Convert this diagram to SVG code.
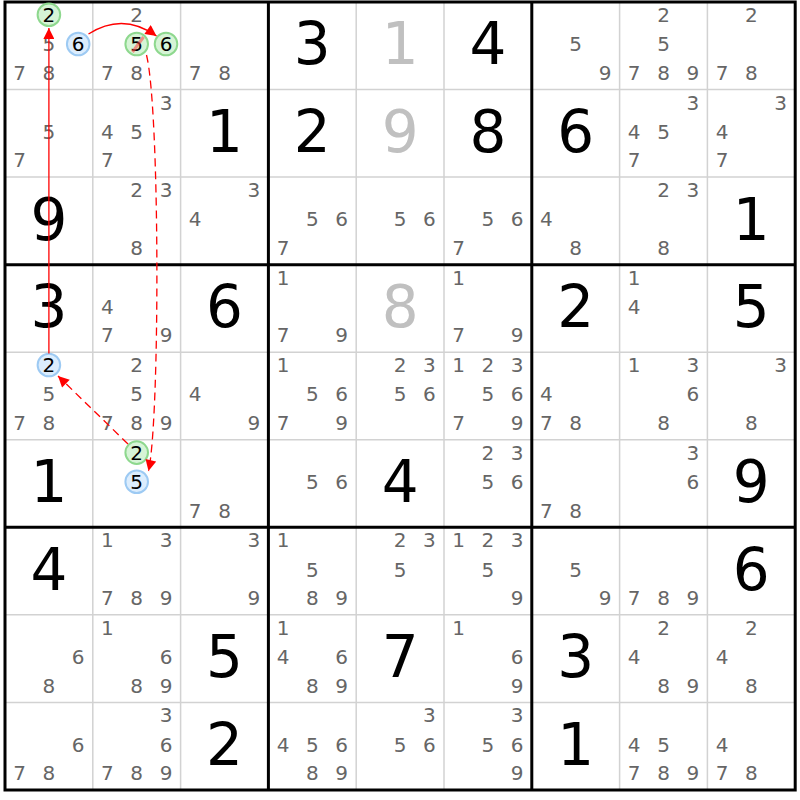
<svg xmlns="http://www.w3.org/2000/svg" width="800" height="800" viewBox="0 0 800 800">
<style>
.c{font-family:"DejaVu Sans",Verdana,sans-serif;font-size:20px;fill:#666;text-anchor:middle}
.cb{font-family:"DejaVu Sans",Verdana,sans-serif;font-size:20px;fill:#000;text-anchor:middle}
.g{font-family:"DejaVu Sans",Verdana,sans-serif;font-size:58px;fill:#000;text-anchor:middle}
.s{font-family:"DejaVu Sans",Verdana,sans-serif;font-size:58px;fill:#c0c0c0;text-anchor:middle}
.gc{fill:#d6f4d6;stroke:#8ed88e;stroke-width:2}
.bc{fill:#dcedfd;stroke:#9dcaf3;stroke-width:2}
.thin{stroke:#d2d2d2;stroke-width:1.5}
.thick{stroke:#000;stroke-width:3}
.link{fill:none;stroke:#f00;stroke-width:1.3}
.dash{stroke-dasharray:8 5}
</style>
<defs>
<marker id="ah" viewBox="0 0 10 10" refX="10" refY="5" markerWidth="13" markerHeight="11" markerUnits="userSpaceOnUse" orient="auto">
<path d="M0,0 L10,5 L0,10 z" fill="#f00"/>
</marker>
</defs>
<rect x="0" y="0" width="800" height="800" fill="#fff"/>
<g id="grid">
<path class="thin" d="M92.8,2V790M180.6,2V790M356.2,2V790M444,2V790M619.6,2V790M707.4,2V790M5,89.55H795.2M5,177.1H795.2M5,352.2H795.2M5,439.75H795.2M5,614.85H795.2M5,702.4H795.2"/>
<path class="thick" d="M268.4,2V790M531.8,2V790M5,264.65H795.2M5,527.3H795.2"/>
<rect class="thick" x="5" y="2" width="790.2" height="788" fill="none"/>
</g>
<g id="cells">
<g id="r0c0"><circle class="gc" cx="48.9" cy="14.8" r="11.3"/><circle class="bc" cx="78.2" cy="44" r="11.3"/><text class="cb" x="48.9" y="22">2</text><text class="c" x="48.9" y="51.2">5</text><text class="cb" x="78.2" y="51.2">6</text><text class="c" x="19.6" y="79.7">7</text><text class="c" x="48.9" y="79.7">8</text></g>
<g id="r0c1"><circle class="gc" cx="136.7" cy="44" r="11.3"/><circle class="gc" cx="166" cy="44" r="11.3"/><text class="c" x="136.7" y="22">2</text><text class="cb" x="136.7" y="51.2">5</text><line x1="143.5" y1="37" x2="132.5" y2="52" stroke="#ff4040" stroke-opacity="0.55" stroke-width="3"/><text class="cb" x="166" y="51.2">6</text><text class="c" x="107.4" y="79.7">7</text><text class="c" x="136.7" y="79.7">8</text></g>
<g id="r0c2"><text class="c" x="195.2" y="79.7">7</text><text class="c" x="224.5" y="79.7">8</text></g>
<g id="r0c3"><text class="g" x="312.3" y="64.4">3</text></g>
<g id="r0c4"><text class="s" x="400.1" y="64.4">1</text></g>
<g id="r0c5"><text class="g" x="487.9" y="64.4">4</text></g>
<g id="r0c6"><text class="c" x="575.7" y="51.2">5</text><text class="c" x="605" y="79.7">9</text></g>
<g id="r0c7"><text class="c" x="663.5" y="22">2</text><text class="c" x="663.5" y="51.2">5</text><text class="c" x="634.2" y="79.7">7</text><text class="c" x="663.5" y="79.7">8</text><text class="c" x="692.8" y="79.7">9</text></g>
<g id="r0c8"><text class="c" x="751.3" y="22">2</text><text class="c" x="722" y="79.7">7</text><text class="c" x="751.3" y="79.7">8</text></g>

<g id="r1c0"><text class="c" x="48.9" y="138.8">5</text><text class="c" x="19.6" y="167.2">7</text></g>
<g id="r1c1"><text class="c" x="166" y="109.6">3</text><text class="c" x="107.4" y="138.8">4</text><text class="c" x="136.7" y="138.8">5</text><text class="c" x="107.4" y="167.2">7</text></g>
<g id="r1c2"><text class="g" x="224.5" y="152">1</text></g>
<g id="r1c3"><text class="g" x="312.3" y="152">2</text></g>
<g id="r1c4"><text class="s" x="400.1" y="152">9</text></g>
<g id="r1c5"><text class="g" x="487.9" y="152">8</text></g>
<g id="r1c6"><text class="g" x="575.7" y="152">6</text></g>
<g id="r1c7"><text class="c" x="692.8" y="109.6">3</text><text class="c" x="634.2" y="138.8">4</text><text class="c" x="663.5" y="138.8">5</text><text class="c" x="634.2" y="167.2">7</text></g>
<g id="r1c8"><text class="c" x="780.6" y="109.6">3</text><text class="c" x="722" y="138.8">4</text><text class="c" x="722" y="167.2">7</text></g>

<g id="r2c0"><text class="g" x="48.9" y="239.5">9</text></g>
<g id="r2c1"><text class="c" x="136.7" y="197.1">2</text><text class="c" x="166" y="197.1">3</text><text class="c" x="136.7" y="254.8">8</text></g>
<g id="r2c2"><text class="c" x="253.8" y="197.1">3</text><text class="c" x="195.2" y="226.3">4</text></g>
<g id="r2c3"><text class="c" x="312.3" y="226.3">5</text><text class="c" x="341.6" y="226.3">6</text><text class="c" x="283" y="254.8">7</text></g>
<g id="r2c4"><text class="c" x="400.1" y="226.3">5</text><text class="c" x="429.4" y="226.3">6</text></g>
<g id="r2c5"><text class="c" x="487.9" y="226.3">5</text><text class="c" x="517.2" y="226.3">6</text><text class="c" x="458.6" y="254.8">7</text></g>
<g id="r2c6"><text class="c" x="546.4" y="226.3">4</text><text class="c" x="575.7" y="254.8">8</text></g>
<g id="r2c7"><text class="c" x="663.5" y="197.1">2</text><text class="c" x="692.8" y="197.1">3</text><text class="c" x="663.5" y="254.8">8</text></g>
<g id="r2c8"><text class="g" x="751.3" y="239.5">1</text></g>

<g id="r3c0"><text class="g" x="48.9" y="327">3</text></g>
<g id="r3c1"><text class="c" x="107.4" y="313.9">4</text><text class="c" x="107.4" y="342.4">7</text><text class="c" x="166" y="342.4">9</text></g>
<g id="r3c2"><text class="g" x="224.5" y="327">6</text></g>
<g id="r3c3"><text class="c" x="283" y="284.7">1</text><text class="c" x="283" y="342.4">7</text><text class="c" x="341.6" y="342.4">9</text></g>
<g id="r3c4"><text class="s" x="400.1" y="327">8</text></g>
<g id="r3c5"><text class="c" x="458.6" y="284.7">1</text><text class="c" x="458.6" y="342.4">7</text><text class="c" x="517.2" y="342.4">9</text></g>
<g id="r3c6"><text class="g" x="575.7" y="327">2</text></g>
<g id="r3c7"><text class="c" x="634.2" y="284.7">1</text><text class="c" x="634.2" y="313.9">4</text></g>
<g id="r3c8"><text class="g" x="751.3" y="327">5</text></g>

<g id="r4c0"><circle class="bc" cx="48.9" cy="365" r="11.3"/><text class="cb" x="48.9" y="372.2">2</text><text class="c" x="48.9" y="401.4">5</text><text class="c" x="19.6" y="429.9">7</text><text class="c" x="48.9" y="429.9">8</text></g>
<g id="r4c1"><text class="c" x="136.7" y="372.2">2</text><text class="c" x="136.7" y="401.4">5</text><text class="c" x="107.4" y="429.9">7</text><text class="c" x="136.7" y="429.9">8</text><text class="c" x="166" y="429.9">9</text></g>
<g id="r4c2"><text class="c" x="195.2" y="401.4">4</text><text class="c" x="253.8" y="429.9">9</text></g>
<g id="r4c3"><text class="c" x="283" y="372.2">1</text><text class="c" x="312.3" y="401.4">5</text><text class="c" x="341.6" y="401.4">6</text><text class="c" x="283" y="429.9">7</text><text class="c" x="341.6" y="429.9">9</text></g>
<g id="r4c4"><text class="c" x="400.1" y="372.2">2</text><text class="c" x="429.4" y="372.2">3</text><text class="c" x="400.1" y="401.4">5</text><text class="c" x="429.4" y="401.4">6</text></g>
<g id="r4c5"><text class="c" x="458.6" y="372.2">1</text><text class="c" x="487.9" y="372.2">2</text><text class="c" x="517.2" y="372.2">3</text><text class="c" x="487.9" y="401.4">5</text><text class="c" x="517.2" y="401.4">6</text><text class="c" x="458.6" y="429.9">7</text><text class="c" x="517.2" y="429.9">9</text></g>
<g id="r4c6"><text class="c" x="546.4" y="401.4">4</text><text class="c" x="546.4" y="429.9">7</text><text class="c" x="575.7" y="429.9">8</text></g>
<g id="r4c7"><text class="c" x="634.2" y="372.2">1</text><text class="c" x="692.8" y="372.2">3</text><text class="c" x="692.8" y="401.4">6</text><text class="c" x="663.5" y="429.9">8</text></g>
<g id="r4c8"><text class="c" x="780.6" y="372.2">3</text><text class="c" x="751.3" y="429.9">8</text></g>

<g id="r5c0"><text class="g" x="48.9" y="502.2">1</text></g>
<g id="r5c1"><circle class="gc" cx="136.7" cy="452.6" r="11.3"/><circle class="bc" cx="136.7" cy="481.8" r="11.3"/><text class="cb" x="136.7" y="459.8">2</text><text class="cb" x="136.7" y="489">5</text></g>
<g id="r5c2"><text class="c" x="195.2" y="517.5">7</text><text class="c" x="224.5" y="517.5">8</text></g>
<g id="r5c3"><text class="c" x="312.3" y="489">5</text><text class="c" x="341.6" y="489">6</text></g>
<g id="r5c4"><text class="g" x="400.1" y="502.2">4</text></g>
<g id="r5c5"><text class="c" x="487.9" y="459.8">2</text><text class="c" x="517.2" y="459.8">3</text><text class="c" x="487.9" y="489">5</text><text class="c" x="517.2" y="489">6</text></g>
<g id="r5c6"><text class="c" x="546.4" y="517.5">7</text><text class="c" x="575.7" y="517.5">8</text></g>
<g id="r5c7"><text class="c" x="692.8" y="459.8">3</text><text class="c" x="692.8" y="489">6</text></g>
<g id="r5c8"><text class="g" x="751.3" y="502.2">9</text></g>

<g id="r6c0"><text class="g" x="48.9" y="589.7">4</text></g>
<g id="r6c1"><text class="c" x="107.4" y="547.3">1</text><text class="c" x="166" y="547.3">3</text><text class="c" x="107.4" y="605">7</text><text class="c" x="136.7" y="605">8</text><text class="c" x="166" y="605">9</text></g>
<g id="r6c2"><text class="c" x="253.8" y="547.3">3</text><text class="c" x="253.8" y="605">9</text></g>
<g id="r6c3"><text class="c" x="283" y="547.3">1</text><text class="c" x="312.3" y="576.5">5</text><text class="c" x="312.3" y="605">8</text><text class="c" x="341.6" y="605">9</text></g>
<g id="r6c4"><text class="c" x="400.1" y="547.3">2</text><text class="c" x="429.4" y="547.3">3</text><text class="c" x="400.1" y="576.5">5</text></g>
<g id="r6c5"><text class="c" x="458.6" y="547.3">1</text><text class="c" x="487.9" y="547.3">2</text><text class="c" x="517.2" y="547.3">3</text><text class="c" x="487.9" y="576.5">5</text><text class="c" x="517.2" y="605">9</text></g>
<g id="r6c6"><text class="c" x="575.7" y="576.5">5</text><text class="c" x="605" y="605">9</text></g>
<g id="r6c7"><text class="c" x="634.2" y="605">7</text><text class="c" x="663.5" y="605">8</text><text class="c" x="692.8" y="605">9</text></g>
<g id="r6c8"><text class="g" x="751.3" y="589.7">6</text></g>

<g id="r7c0"><text class="c" x="78.2" y="664.1">6</text><text class="c" x="48.9" y="692.6">8</text></g>
<g id="r7c1"><text class="c" x="107.4" y="634.9">1</text><text class="c" x="166" y="664.1">6</text><text class="c" x="136.7" y="692.6">8</text><text class="c" x="166" y="692.6">9</text></g>
<g id="r7c2"><text class="g" x="224.5" y="677.3">5</text></g>
<g id="r7c3"><text class="c" x="283" y="634.9">1</text><text class="c" x="283" y="664.1">4</text><text class="c" x="341.6" y="664.1">6</text><text class="c" x="312.3" y="692.6">8</text><text class="c" x="341.6" y="692.6">9</text></g>
<g id="r7c4"><text class="g" x="400.1" y="677.3">7</text></g>
<g id="r7c5"><text class="c" x="458.6" y="634.9">1</text><text class="c" x="517.2" y="664.1">6</text><text class="c" x="517.2" y="692.6">9</text></g>
<g id="r7c6"><text class="g" x="575.7" y="677.3">3</text></g>
<g id="r7c7"><text class="c" x="663.5" y="634.9">2</text><text class="c" x="634.2" y="664.1">4</text><text class="c" x="663.5" y="692.6">8</text><text class="c" x="692.8" y="692.6">9</text></g>
<g id="r7c8"><text class="c" x="751.3" y="634.9">2</text><text class="c" x="722" y="664.1">4</text><text class="c" x="751.3" y="692.6">8</text></g>

<g id="r8c0"><text class="c" x="78.2" y="751.6">6</text><text class="c" x="19.6" y="780.1">7</text><text class="c" x="48.9" y="780.1">8</text></g>
<g id="r8c1"><text class="c" x="166" y="722.4">3</text><text class="c" x="166" y="751.6">6</text><text class="c" x="107.4" y="780.1">7</text><text class="c" x="136.7" y="780.1">8</text><text class="c" x="166" y="780.1">9</text></g>
<g id="r8c2"><text class="g" x="224.5" y="764.8">2</text></g>
<g id="r8c3"><text class="c" x="283" y="751.6">4</text><text class="c" x="312.3" y="751.6">5</text><text class="c" x="341.6" y="751.6">6</text><text class="c" x="312.3" y="780.1">8</text><text class="c" x="341.6" y="780.1">9</text></g>
<g id="r8c4"><text class="c" x="429.4" y="722.4">3</text><text class="c" x="400.1" y="751.6">5</text><text class="c" x="429.4" y="751.6">6</text></g>
<g id="r8c5"><text class="c" x="517.2" y="722.4">3</text><text class="c" x="487.9" y="751.6">5</text><text class="c" x="517.2" y="751.6">6</text><text class="c" x="517.2" y="780.1">9</text></g>
<g id="r8c6"><text class="g" x="575.7" y="764.8">1</text></g>
<g id="r8c7"><text class="c" x="634.2" y="751.6">4</text><text class="c" x="663.5" y="751.6">5</text><text class="c" x="634.2" y="780.1">7</text><text class="c" x="663.5" y="780.1">8</text><text class="c" x="692.8" y="780.1">9</text></g>
<g id="r8c8"><text class="c" x="722" y="751.6">4</text><text class="c" x="722" y="780.1">7</text><text class="c" x="751.3" y="780.1">8</text></g>
</g>
<g id="connectors">
<path class="link" d="M48.9,353.5 V28" marker-end="url(#ah)"/>
<path class="link" d="M88.5,34 Q123,12 156.5,36" marker-end="url(#ah)"/>
<path class="link dash" d="M146.5,55 C160,110 160,420 148.5,471" marker-end="url(#ah)"/>
<path class="link dash" d="M128,444 L58,376" marker-end="url(#ah)"/>
</g>
</svg>
